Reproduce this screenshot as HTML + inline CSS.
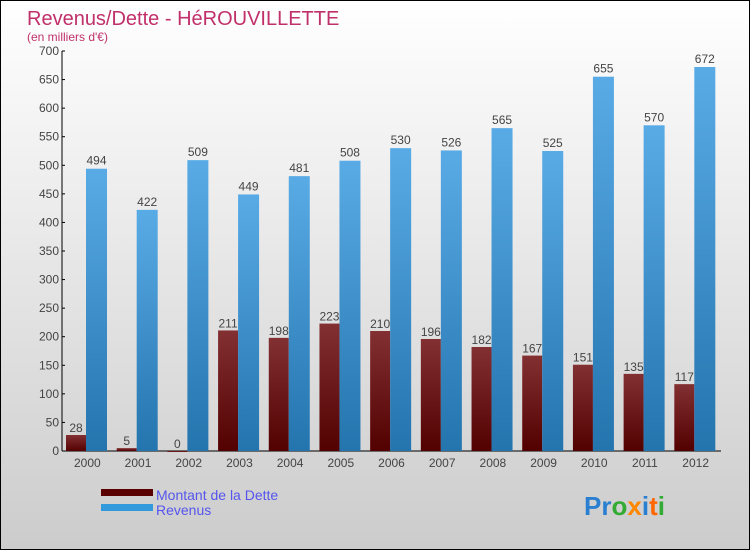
<!DOCTYPE html>
<html><head><meta charset="utf-8"><style>
body{margin:0;}
#c{position:relative;width:748px;height:548px;border:1px solid #000;background:linear-gradient(#fff,#ccc);font-family:"Liberation Sans",sans-serif;overflow:hidden}
svg text{font-family:"Liberation Sans",sans-serif}
</style></head><body>
<div id="c">
<svg id="s" width="748" height="548" xmlns="http://www.w3.org/2000/svg">
<defs>
<linearGradient id="gd" x1="0" y1="0" x2="0" y2="1"><stop offset="0" stop-color="#833033"/><stop offset="1" stop-color="#520000"/></linearGradient>
<linearGradient id="gr" x1="0" y1="0" x2="0" y2="1"><stop offset="0" stop-color="#59abe6"/><stop offset="1" stop-color="#2474ae"/></linearGradient>
</defs>
<text x="26" y="24" font-size="20" fill="#c0306a">Revenus/Dette - HéROUVILLETTE</text>
<text x="26" y="40" font-size="12" fill="#c0306a">(en milliers d'€)</text>
<g id="ax"></g><g id="bars"></g>
<rect x="100" y="488" width="52" height="7" fill="#5a0000"/>
<rect x="100" y="503" width="52" height="7" fill="#3399dd"/>
<text x="155" y="499" font-size="14" fill="#5555ee">Montant de la Dette</text>
<text x="155" y="514" font-size="14" fill="#5555ee">Revenus</text>
<text x="583" y="514" font-size="26" font-weight="bold"><tspan fill="#2a7fd0">Pr</tspan><tspan fill="#33aa33">o</tspan><tspan fill="#ff8800">x</tspan><tspan fill="#2a7fd0">i</tspan><tspan fill="#ff6600">t</tspan><tspan fill="#33aa33">i</tspan></text>
</svg></div>
<script>
const years=["2000","2001","2002","2003","2004","2005","2006","2007","2008","2009","2010","2011","2012"];
const dette=[28,5,0,211,198,223,210,196,182,167,151,135,117];
const revenus=[494,422,509,449,481,508,530,526,565,525,655,570,672];
const ticks=[0,50,100,150,200,250,300,350,400,450,500,550,600,650,700];
const NS="http://www.w3.org/2000/svg";
const x0=61,x1=720,y0=450,yTop=50,maxV=700;
const band=(x1-x0)/years.length;
const y=v=>y0-(v/maxV)*(y0-yTop);
function mk(t,a,p){const e=document.createElementNS(NS,t);for(const k in a)e.setAttribute(k,a[k]);p.appendChild(e);return e;}
const ax=document.getElementById('ax'),bars=document.getElementById('bars');
const yl=mk('line',{x1:x0,y1:yTop,x2:x0,y2:y0,stroke:'#000'},ax);


const xl=mk('line',{x1:x0,y1:y0,x2:x1,y2:y0,stroke:'#000'},ax);


ticks.forEach(t=>{
 mk('line',{x1:x0,y1:y(t),x2:x0+3,y2:y(t),stroke:'#000'},ax);
 const tx=mk('text',{x:x0-3,y:y(t)+4,'font-size':12,fill:'#444','text-anchor':'end'},ax);tx.textContent=t;
 
 
});
years.forEach((yr,i)=>{
 const gx=x0+band*i;
 const tx=mk('text',{x:gx+band/2,y:y0+16,'font-size':12,fill:'#444','text-anchor':'middle'},ax);tx.textContent=yr;
 
 
 const dy=y(dette[i]);
 const b1=mk('rect',{x:gx+4,y:dy,width:20,height:Math.max(y0-dy,1),fill:'url(#gd)'},bars);
 
 
 const l1=mk('text',{x:gx+14,y:dy-3,'font-size':12,fill:'#444','text-anchor':'middle'},bars);l1.textContent=dette[i];
 
 
 const ry=y(revenus[i]);
 const b2=mk('rect',{x:gx+24,y:ry,width:21,height:y0-ry,fill:'url(#gr)'},bars);
 
 
 const l2=mk('text',{x:gx+34.5,y:ry-4,'font-size':12,fill:'#444','text-anchor':'middle'},bars);l2.textContent=revenus[i];
 
 
});
</script>
</body></html>
